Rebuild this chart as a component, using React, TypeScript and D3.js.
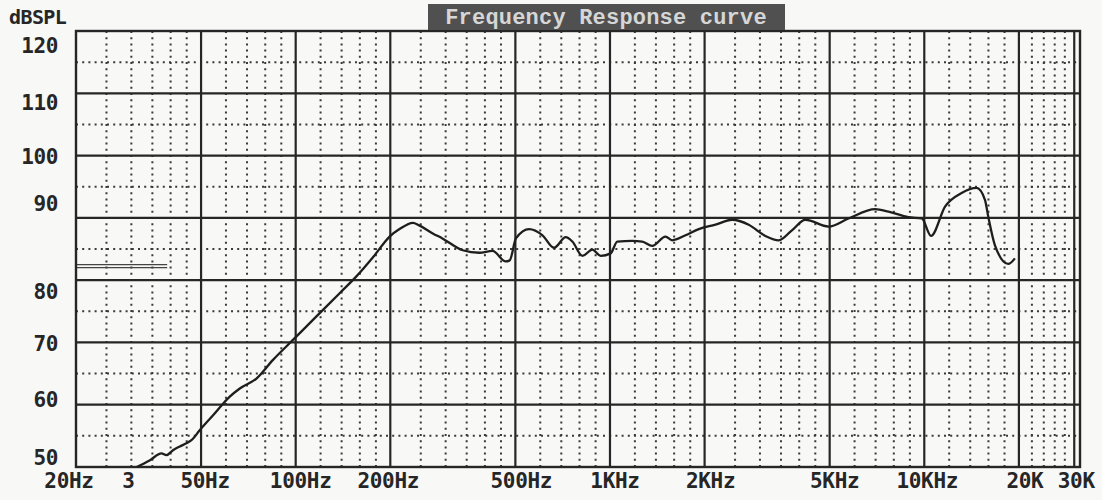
import React from "react";
import * as d3 from "d3";

// ---- data ----
const freqHz = [31.2, 34.4, 37.4, 38.8, 40.7, 42.8, 44.9, 46.6, 49.5, 54.6, 61.7, 66.4, 75.0, 84.7, 98.0, 116, 138, 156, 177, 199, 214, 236, 247, 273, 293, 340, 384, 423, 466, 480, 502, 553, 610, 664, 723, 759, 817, 879, 934, 1005, 1055, 1177, 1266, 1363, 1502, 1577, 1739, 1917, 2166, 2446, 2763, 3122, 3442, 3792, 4183, 4960, 5740, 6978, 7692, 8901, 9812, 10508, 11642, 13146, 14668, 15596, 15978, 16780, 18494, 19424];
const splDb = [50.0, 51.1, 52.2, 51.9, 52.7, 53.3, 53.8, 54.3, 55.9, 58.3, 61.3, 62.6, 64.2, 67.2, 70.4, 74.1, 77.9, 80.6, 83.8, 87.0, 88.2, 89.2, 88.8, 87.5, 86.7, 84.8, 84.4, 84.7, 83.0, 83.2, 86.7, 88.2, 87.2, 85.2, 86.9, 86.2, 83.9, 84.9, 83.9, 84.3, 86.2, 86.3, 86.2, 85.5, 87.0, 86.4, 87.2, 88.2, 88.9, 89.7, 88.9, 87.1, 86.4, 88.0, 89.7, 88.6, 89.9, 91.4, 91.0, 90.1, 89.9, 87.1, 91.8, 94.0, 94.8, 92.9, 90.2, 85.6, 82.6, 83.5];

const xTickFreqs = [20, 30, 50, 100, 200, 500, 1000, 2000, 5000, 10000, 20000, 30000];
const xTickLabels = ["20Hz", "3", "50Hz", "100Hz", "200Hz", "500Hz", "1KHz", "2KHz", "5KHz", "10KHz", "20K", "30K"];
const majorFreqs = [50, 100, 200, 500, 1000, 2000, 5000, 10000, 20000, 30000];
const minorFreqs = [25, 30, 35, 40, 45, 60, 70, 80, 90, 120, 140, 160, 180, 250, 300, 350, 400, 450, 600, 700, 800, 900, 1200, 1400, 1600, 1800, 2500, 3000, 3500, 4000, 4500, 6000, 7000, 8000, 9000, 12000, 14000, 16000, 18000, 22000, 24000, 26000, 28000];
const yTicks = [120, 110, 100, 90, 80, 70, 60, 50];
const yTickLabels = ["120", "110", "100", "90", "80", "70", "60", "50"];
const majorDb = [60, 70, 80, 90, 100, 110];
const minorDb = [55, 65, 75, 85, 95, 105, 115];
const refLevelsDb = [82.5, 82.0];
const refEndHz = 39;

// ---- layout (pixel nudges of labels) ----
const xLabelNudge = [-7, -3, 4, 5, -2, 6, 5, 6, 5, 3, 6, 2];
const yLabelNudge = [14, 9, 1, -14, 11, 1, -5, -10];

const W = 1102;
const H = 500;
const L = 76, T = 31, B = 467, R = 1080;

export default function App() {
  const x = d3.scaleLog().domain([20, 30000]).range([L, L + 314.3 * Math.log10(1500)]);
  const y = d3.scaleLinear().domain([50, 120]).range([B, T]);
  const pts: [number, number][] = freqHz.map((f, i) => [x(f), y(splDb[i])]);
  const line = d3.line().curve(d3.curveMonotoneX)(pts) || "";
  const dark = "#262626";
  const font = "'DejaVu Sans Mono', monospace";
  return (
    <svg width={W} height={H} style={{ position: "absolute", left: 0, top: 0, background: "#f8f8f7" }}>
      <rect x={0} y={0} width={W} height={H} fill="#f8f8f7" />
      {/* minor grid */}
      {minorFreqs.map((f) => (
        <line key={"mv" + f} x1={x(f)} x2={x(f)} y1={T} y2={B} stroke="#3a3a3a" strokeWidth={2} strokeDasharray="2 4.2" />
      ))}
      {minorDb.map((d) => (
        <line key={"mh" + d} x1={L} x2={R} y1={y(d)} y2={y(d)} stroke="#3a3a3a" strokeWidth={2} strokeDasharray="2 4.2" />
      ))}
      {/* major grid */}
      {majorFreqs.map((f) => (
        <line key={"Mv" + f} x1={x(f)} x2={x(f)} y1={T} y2={B} stroke={dark} strokeWidth={2.2} />
      ))}
      {majorDb.map((d) => (
        <line key={"Mh" + d} x1={L} x2={R} y1={y(d)} y2={y(d)} stroke={dark} strokeWidth={2.2} />
      ))}
      {/* reference marks */}
      {refLevelsDb.map((d) => (
        <line key={"r" + d} x1={L} x2={x(refEndHz)} y1={y(d)} y2={y(d)} stroke="#444" strokeWidth={1.2} />
      ))}
      {/* frame */}
      <rect x={L} y={T} width={R - L} height={B - T} fill="none" stroke={dark} strokeWidth={2.4} />
      {/* curve */}
      <path d={line} fill="none" stroke="#1e1e1e" strokeWidth={2.3} strokeLinejoin="round" />
      {/* title */}
      <rect x={428} y={4} width={357} height={26} fill="#505050" />
      <text x={606} y={24} textAnchor="middle" fontFamily="'Liberation Mono', monospace" fontWeight="bold" fontSize={22} fill="#d6d6d6" letterSpacing={0.2}>
        Frequency Response curve
      </text>
      {/* y labels */}
      <text x={9} y={24} fontFamily={font} fontWeight="bold" fontSize={20} fill={dark} letterSpacing={-0.6}>dBSPL</text>
      {yTicks.map((d, i) => (
        <text key={"yl" + d} x={58} y={y(d) + yLabelNudge[i]} dy="0.36em" textAnchor="end" fontFamily={font} fontWeight="bold" fontSize={21} fill={dark} letterSpacing={-0.4}>
          {yTickLabels[i]}
        </text>
      ))}
      {/* x labels */}
      {xTickFreqs.map((f, i) => (
        <text key={"xl" + f} x={x(f) + xLabelNudge[i]} y={488} textAnchor="middle" fontFamily={font} fontWeight="bold" fontSize={21} fill={dark} letterSpacing={-0.3}>
          {xTickLabels[i]}
        </text>
      ))}
    </svg>
  );
}
